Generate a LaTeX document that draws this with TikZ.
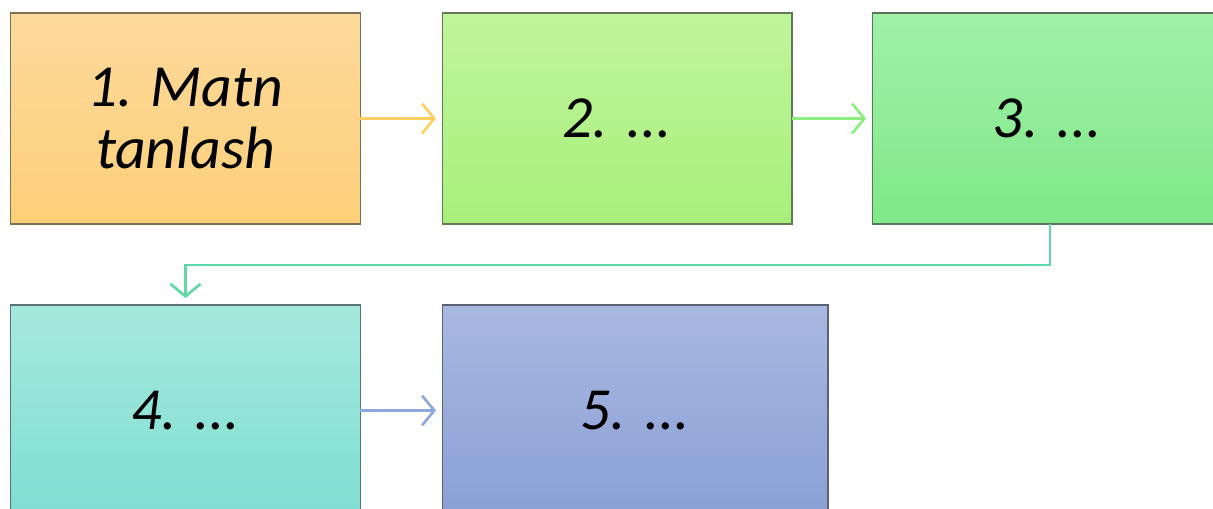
\documentclass[tikz,border=0pt]{standalone}
\usepackage{fontspec}
\setmainfont{Carlito}
\usetikzlibrary{arrows.meta}

% box shades, top and bottom
\definecolor{oneTop}{HTML}{FDD99B}
\definecolor{oneBot}{HTML}{FDCF78}
\definecolor{twoTop}{HTML}{C0F59C}
\definecolor{twoBot}{HTML}{A7F07A}
\definecolor{threeTop}{HTML}{A0F0A8}
\definecolor{threeBot}{HTML}{80E888}
\definecolor{fourTop}{HTML}{A6E8DE}
\definecolor{fourBot}{HTML}{7EDFD2}
\definecolor{fiveTop}{HTML}{A8B8E0}
\definecolor{fiveBot}{HTML}{8AA0D6}
% arrow colours
\definecolor{oneArr}{HTML}{FFD060}
\definecolor{twoArr}{HTML}{8CEE80}
\definecolor{threeArr}{HTML}{5ED8A4}
\definecolor{fourArr}{HTML}{8CA8DC}

\begin{document}
\begin{tikzpicture}[x=0.02cm, y=-0.02cm,
    stage/.style={draw, line width=0.6pt, inner sep=0pt, outer sep=0pt,
        minimum width=7cm, minimum height=4.22cm, align=center,
        font=\fontsize{34}{35}\selectfont\itshape},
    flow/.style={line width=1.5pt, -{Straight Barb[length=7pt,width=17pt]}}]
    \path[use as bounding box] (0,0) rectangle (1213,509);
    \fill[white] (0,0) rectangle (1213,509);
    \clip (0,0) rectangle (1213,509);

    \node[stage, top color=oneTop, bottom color=oneBot, draw=oneBot!40!gray!70!black] (matn) at (185.5,118.5) {1. Matn\\tanlash};
    \node[stage, top color=twoTop, bottom color=twoBot, draw=twoBot!40!gray!70!black] (two) at (617,118.5) {2. ...};
    \node[stage, top color=threeTop, bottom color=threeBot, draw=threeBot!40!gray!70!black] (three) at (1047,118.5) {3. ...};
    \node[stage, top color=fourTop, bottom color=fourBot, draw=fourBot!40!gray!70!black] (four) at (185.5,410.5) {4. ...};
    \node[stage, minimum width=7.72cm, top color=fiveTop, bottom color=fiveBot, draw=fiveBot!40!gray!70!black] (five) at (635,410.5) {5. ...};

    \draw[flow, oneArr] (matn.east) -- ([xshift=-0.12cm]two.west);
    \draw[flow, twoArr] (two.east) -- ([xshift=-0.12cm]three.west);
    \draw[flow, threeArr] ([xshift=0.06cm]three.south) -- ++(0,41) -| ([yshift=0.14cm]four.north);
    \draw[flow, fourArr] (four.east) -- ([xshift=-0.12cm]five.west);
\end{tikzpicture}
\end{document}
